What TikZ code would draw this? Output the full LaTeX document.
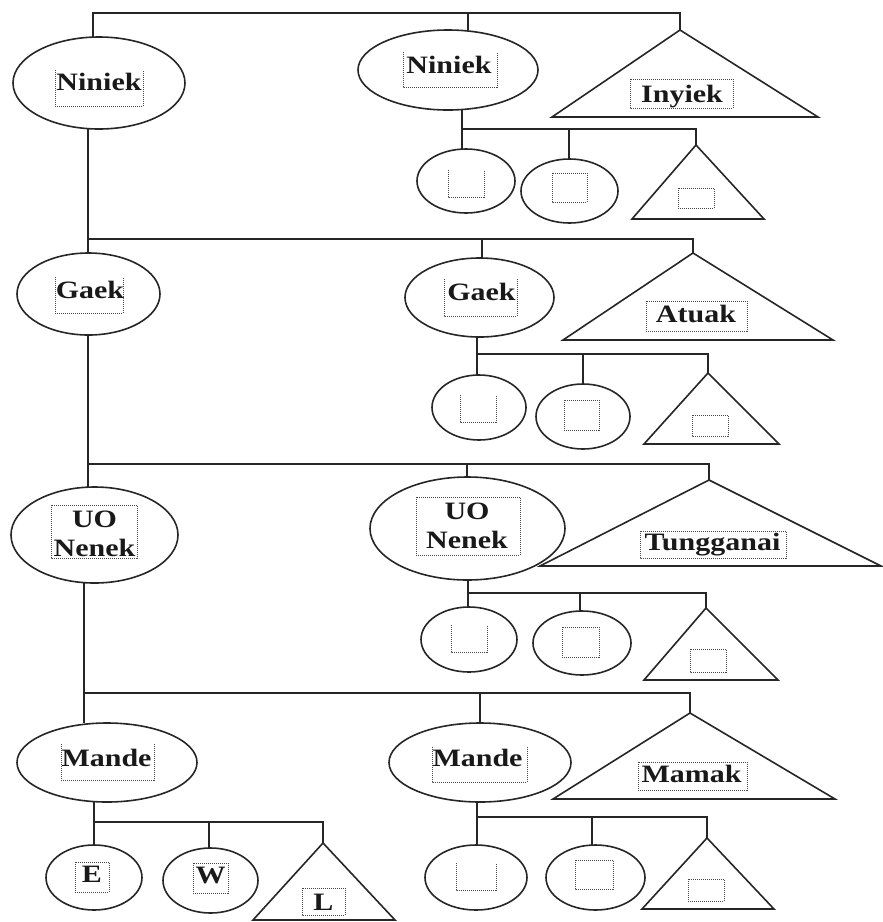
\documentclass[tikz,border=0pt]{standalone}
\usepackage{fontspec}
\newfontfamily\lblfont{Liberation Serif}[FakeStretch=1.2]
\usetikzlibrary{shapes.geometric}
\newcommand\UBox[4]{\draw[dotbox] (#1,#2) -- (#1,#4) -- (#3,#4) -- (#3,#2);}
\newcommand\RBox[4]{\draw[dotbox] (#1,#2) rectangle (#3,#4);}
\begin{document}
\begin{tikzpicture}[x=1pt,y=-1pt,
  ln/.style={line width=1.6pt, draw=black!85},
  ell/.style={ellipse, draw=black!85, line width=1.6pt, inner sep=0pt, outer sep=0pt},
  dotbox/.style={densely dotted, line width=1pt, draw=black!72},
  lbl/.style={font={\lblfont\bfseries\fontsize{25}{29}\selectfont}, anchor=base, inner sep=0pt, text=black!90},
  lbl2/.style={font={\lblfont\bfseries\fontsize{25}{29}\selectfont}, anchor=center, align=center, inner sep=0pt, text=black!90},
]
\useasboundingbox (0,0) rectangle (883,922);

% ---------------- Row 1 ----------------
\node[ell, minimum width=172pt, minimum height=92pt] (A1) at (99,83) {};
\node[ell, minimum width=180pt, minimum height=80pt] (B1) at (448,70) {};
\coordinate (C1) at (680,30);
\draw[ln] (C1) -- (552,117) -- (818,117) -- cycle;
\node[ell, minimum width=98pt, minimum height=64pt] (b1a) at (466,181) {};
\node[ell, minimum width=97pt, minimum height=64pt] (b1b) at (569.5,191) {};
\coordinate (c1c) at (696,145);
\draw[ln] (c1c) -- (632,219) -- (764,219) -- cycle;

\node[lbl] (tA1) at (99,90) {Niniek};
\UBox{55}{70}{143}{106}
\node[lbl] (tB1) at (449,73) {Niniek};
\UBox{403}{52}{497}{87}
\node[lbl] (tC1) at (682,102) {Inyiek};
\RBox{630}{79}{733}{108}
\UBox{448}{170}{484}{197}
\RBox{552}{173}{587}{202}
\RBox{678}{188}{714}{208}

% top bar
\coordinate (r1a) at (93,13);
\coordinate (r1b) at (468,13);
\coordinate (r1c) at (680,13);
\draw[ln] (r1a |- A1.north) -- (r1a) -- (r1c) -- (C1);
\draw[ln] (r1b) -- (r1b |- B1.north);
% children of B1
\coordinate (j1a) at (462,129);
\coordinate (j1b) at (569,129);
\coordinate (j1c) at (696,129);
\draw[ln] (j1a |- B1.south) -- (j1a) -- (j1c) -- (c1c);
\draw[ln] (j1a) -- (j1a |- b1a.north);
\draw[ln] (j1b) -- (j1b |- b1b.north);

% ---------------- Row 2 ----------------
\node[ell, minimum width=143pt, minimum height=82pt] (A2) at (88.5,294) {};
\node[ell, minimum width=149pt, minimum height=79pt] (B2) at (479.5,297.5) {};
\coordinate (C2) at (693,253);
\draw[ln] (C2) -- (563,340) -- (833,340) -- cycle;
\node[ell, minimum width=94pt, minimum height=65pt] (b2a) at (479,407.5) {};
\node[ell, minimum width=94pt, minimum height=65pt] (b2b) at (583,416.5) {};
\coordinate (c2c) at (708,373);
\draw[ln] (c2c) -- (644,444) -- (779,444) -- cycle;

\node[lbl] (tA2) at (90,298) {Gaek};
\UBox{55}{277}{123}{313}
\node[lbl] (tB2) at (481.5,300) {Gaek};
\UBox{444}{279}{517}{316}
\node[lbl] (tC2) at (696,322) {Atuak};
\RBox{646}{301}{747}{331}
\UBox{460}{395}{496}{422}
\RBox{564}{400}{599}{430}
\RBox{692}{415}{728}{436}

\coordinate (r2a) at (88,239);
\coordinate (r2b) at (482,239);
\coordinate (r2c) at (693,239);
\draw[ln] (r2a |- A1.south) -- (r2a |- A2.north);
\draw[ln] (r2a) -- (r2c) -- (C2);
\draw[ln] (r2b) -- (r2b |- B2.north);
\coordinate (j2a) at (477,354);
\coordinate (j2b) at (583,354);
\coordinate (j2c) at (708,354);
\draw[ln] (j2a |- B2.south) -- (j2a) -- (j2c) -- (c2c);
\draw[ln] (j2a) -- (j2a |- b2a.north);
\draw[ln] (j2b) -- (j2b |- b2b.north);

% ---------------- Row 3 ----------------
\node[ell, minimum width=167pt, minimum height=96pt] (A3) at (94.5,535) {};
\node[ell, minimum width=195pt, minimum height=103pt] (B3) at (467.5,528.5) {};
\coordinate (C3) at (709,480);
\draw[ln] (C3) -- (540,566) -- (881,566) -- cycle;
\node[ell, minimum width=96pt, minimum height=65pt] (b3a) at (469,639.5) {};
\node[ell, minimum width=98pt, minimum height=64pt] (b3b) at (582,643) {};
\coordinate (c3c) at (706,608);
\draw[ln] (c3c) -- (644,680) -- (778,680) -- cycle;

\node[lbl2] (tA3) at (94.5,534) {UO\\Nenek};
\RBox{51}{505}{137}{558}
\node[lbl2] (tB3) at (467,526) {UO\\Nenek};
\RBox{416}{497}{520}{555}
\node[lbl] (tC3) at (712.5,550) {Tungganai};
\RBox{640}{531}{786}{558}
\UBox{451}{625}{487}{652}
\RBox{562}{627}{599}{657}
\RBox{690}{649}{726}{672}

\coordinate (r3a) at (88,464);
\coordinate (r3b) at (467,464);
\coordinate (r3c) at (709,464);
\draw[ln] (r3a |- A2.south) -- (r3a |- A3.north);
\draw[ln] (r3a) -- (r3c) -- (C3);
\draw[ln] (r3b) -- (r3b |- B3.north);
\coordinate (j3a) at (468,593);
\coordinate (j3b) at (580,593);
\coordinate (j3c) at (706,593);
\draw[ln] (j3a |- B3.south) -- (j3a) -- (j3c) -- (c3c);
\draw[ln] (j3a) -- (j3a |- b3a.north);
\draw[ln] (j3b) -- (j3b |- b3b.north);

% ---------------- Row 4 ----------------
\node[ell, minimum width=180pt, minimum height=79pt] (A4) at (107,762.5) {};
\node[ell, minimum width=182pt, minimum height=79pt] (B4) at (480,762.5) {};
\coordinate (C4) at (690,713);
\draw[ln] (C4) -- (553,799) -- (835,799) -- cycle;
\node[ell, minimum width=96pt, minimum height=65pt] (a4a) at (94,877.5) {};
\node[ell, minimum width=95pt, minimum height=65pt] (a4b) at (210.5,880.5) {};
\coordinate (a4c) at (323,843);
\draw[ln] (a4c) -- (253,920) -- (395,920) -- cycle;
\node[ell, minimum width=102pt, minimum height=65pt] (b4a) at (476,877.5) {};
\node[ell, minimum width=99pt, minimum height=65pt] (b4b) at (595.5,877.5) {};
\coordinate (c4c) at (707,838);
\draw[ln] (c4c) -- (642,909) -- (774,909) -- cycle;

\node[lbl] (tA4) at (106.5,766) {Mande};
\UBox{61}{744}{154}{780}
\node[lbl] (tB4) at (477.5,766) {Mande};
\UBox{432}{747}{527}{782}
\node[lbl] (tC4) at (691.5,782) {Mamak};
\RBox{638}{762}{747}{790}
\node[lbl] (tE) at (92,882) {E};
\RBox{75}{862}{109}{892}
\node[lbl] (tW) at (210.5,883) {W};
\RBox{193}{863}{228}{893}
\node[lbl] (tL) at (323.5,910) {L};
\RBox{302}{888}{345}{915}
\UBox{456}{863}{496}{890}
\RBox{575}{860}{613}{889}
\RBox{688}{879}{724}{901}

\coordinate (r4a) at (84,693);
\coordinate (r4b) at (480,693);
\coordinate (r4c) at (690,693);
\draw[ln] (r4a |- A3.south) -- (r4a |- A4.north);
\draw[ln] (r4a) -- (r4c) -- (C4);
\draw[ln] (r4b) -- (r4b |- B4.north);
\coordinate (j4a) at (94,822);
\coordinate (j4b) at (209,822);
\coordinate (j4c) at (323,822);
\draw[ln] (j4a |- A4.south) -- (j4a) -- (j4c) -- (a4c);
\draw[ln] (j4a) -- (j4a |- a4a.north);
\draw[ln] (j4b) -- (j4b |- a4b.north);
\coordinate (k4a) at (477,817);
\coordinate (k4b) at (592,817);
\coordinate (k4c) at (707,817);
\draw[ln] (k4a |- B4.south) -- (k4a) -- (k4c) -- (c4c);
\draw[ln] (k4a) -- (k4a |- b4a.north);
\draw[ln] (k4b) -- (k4b |- b4b.north);
\end{tikzpicture}
\end{document}
